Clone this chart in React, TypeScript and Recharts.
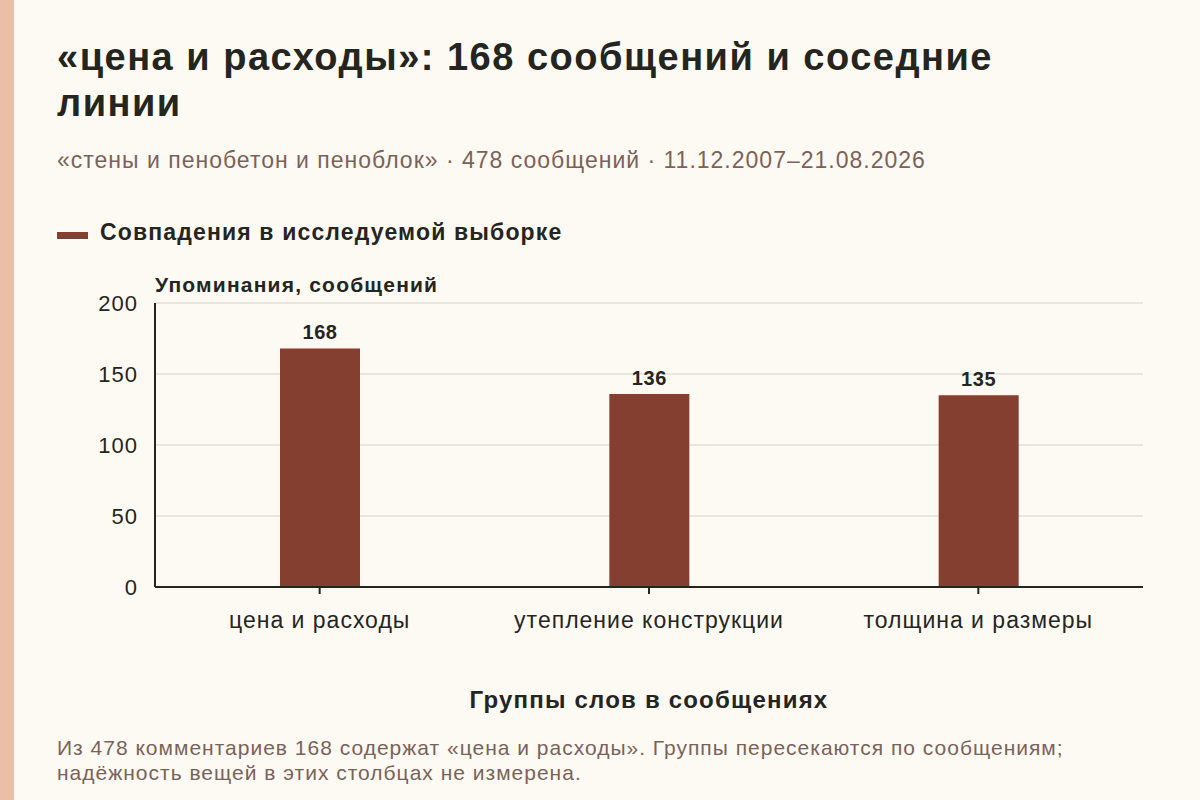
import React from 'react';
import { BarChart, Bar, XAxis, YAxis, CartesianGrid, LabelList } from 'recharts';

const categories = ['цена и расходы', 'утепление конструкции', 'толщина и размеры'];
const matches = [168, 136, 135];
const yTicks = [0, 50, 100, 150, 200];

const data = categories.map((name, i) => ({ name, value: matches[i] }));

const FONT = '"Liberation Sans", Arial, Helvetica, sans-serif';
const BAR = '#843f30';
const INK = '#25251f';
const MUTED = '#7a625a';

export default function App() {
  return (
    <div
      style={{
        position: 'relative',
        width: 1200,
        height: 800,
        background: '#fdfaf3',
        fontFamily: FONT,
        overflow: 'hidden',
      }}
    >
      <style>{'body{margin:0}'}</style>
      <div style={{ position: 'absolute', left: 0, top: 0, width: 14, height: 800, background: '#e9bfa5' }} />

      <div
        style={{
          position: 'absolute',
          left: 57,
          top: 34,
          width: 1000,
          fontSize: 38,
          letterSpacing: 1.5,
          lineHeight: '46px',
          fontWeight: 700,
          color: INK,
        }}
      >
        «цена и расходы»: 168 сообщений и соседние линии
      </div>

      <div
        style={{
          position: 'absolute',
          left: 57,
          top: 146,
          fontSize: 23,
          letterSpacing: 1,
          lineHeight: '28px',
          color: MUTED,
        }}
      >
        «стены и пенобетон и пеноблок» · 478 сообщений · 11.12.2007–21.08.2026
      </div>

      <div style={{ position: 'absolute', left: 57, top: 218, display: 'flex', alignItems: 'center', height: 28 }}>
        <span style={{ display: 'inline-block', width: 31, height: 7, background: BAR, marginRight: 12, marginTop: 6 }} />
        <span style={{ fontSize: 23, letterSpacing: 1.15, fontWeight: 700, color: INK }}>
          Совпадения в исследуемой выборке
        </span>
      </div>

      <div
        style={{
          position: 'absolute',
          left: 155,
          top: 273,
          fontSize: 21,
          letterSpacing: 1.2,
          lineHeight: '24px',
          fontWeight: 700,
          color: INK,
        }}
      >
        Упоминания, сообщений
      </div>

      <div style={{ position: 'absolute', left: 0, top: 0 }}>
        <BarChart
          width={1200}
          height={800}
          data={data}
          margin={{ top: 303, right: 57, bottom: 183, left: 95 }}
        >
          <CartesianGrid vertical={false} stroke="#d6d1c8" strokeWidth={1.2} />
          <XAxis
            dataKey="name"
            height={30}
            axisLine={{ stroke: INK, strokeWidth: 2 }}
            tickLine={{ stroke: INK, strokeWidth: 2 }}
            tickSize={7}
            tickMargin={18}
            tick={{ fill: INK, fontSize: 23, fontFamily: FONT, letterSpacing: 1 }}
            interval={0}
          />
          <YAxis
            width={60}
            domain={[0, 200]}
            ticks={yTicks}
            axisLine={{ stroke: INK, strokeWidth: 2 }}
            tickLine={false}
            tickSize={0}
            tickMargin={17}
            tick={{ fill: INK, fontSize: 22, fontFamily: FONT, letterSpacing: 1 }}
          />
          <Bar dataKey="value" fill={BAR} barSize={80} isAnimationActive={false}>
            <LabelList
              dataKey="value"
              position="top"
              offset={9}
              style={{ fill: INK, fontSize: 20, fontWeight: 700, fontFamily: FONT, letterSpacing: 0.6 }}
            />
          </Bar>
        </BarChart>
      </div>

      <div
        style={{
          position: 'absolute',
          left: 155,
          width: 988,
          top: 686,
          textAlign: 'center',
          fontSize: 24,
          letterSpacing: 1.2,
          lineHeight: '28px',
          fontWeight: 700,
          color: INK,
        }}
      >
        Группы слов в сообщениях
      </div>

      <div
        style={{
          position: 'absolute',
          left: 57,
          top: 735,
          width: 1120,
          fontSize: 21,
          letterSpacing: 1,
          lineHeight: '25px',
          color: MUTED,
        }}
      >
        Из 478 комментариев 168 содержат «цена и расходы». Группы пересекаются по сообщениям;
        <br />
        надёжность вещей в этих столбцах не измерена.
      </div>
    </div>
  );
}
